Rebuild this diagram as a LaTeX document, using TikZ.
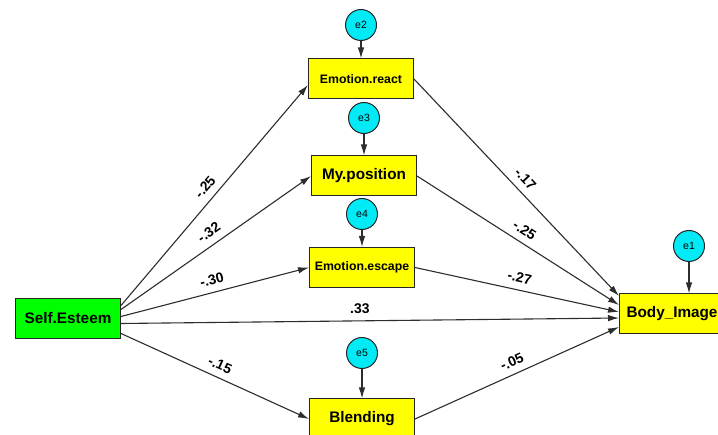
\documentclass[tikz,border=0pt]{standalone}
\usepackage{fontspec}
\setmainfont{Liberation Sans}
\usetikzlibrary{arrows.meta}
\definecolor{varyellow}{RGB}{255,255,0}
\definecolor{exogreen}{RGB}{0,255,0}
\definecolor{errcyan}{RGB}{0,235,245}
\definecolor{linegray}{RGB}{45,45,45}
\begin{document}
\begin{tikzpicture}[x=1pt,y=-1pt,
  var/.style={draw=black!85,line width=1pt,fill=varyellow,minimum width=105pt,minimum height=40pt,inner sep=0pt,font=\fontsize{15.3}{18}\selectfont\bfseries},
  small/.style={font=\fontsize{12.3}{14}\selectfont\bfseries},
  err/.style={circle,draw=black!85,line width=1pt,fill=errcyan,minimum size=31pt,inner sep=0pt,font=\fontsize{10.5}{12}\selectfont},
  arr/.style={draw=linegray,line width=1.1pt,-{Latex[length=11pt,width=6.5pt]}},
  coef/.style={midway,sloped,above=6pt,inner sep=1pt,font=\fontsize{14}{16}\selectfont\bfseries}]
  \useasboundingbox[fill=white] (0,0) rectangle (718,435);
  \node[var,fill=exogreen] (slf) at (68,318.5) {Self.Esteem};
  \node[var,small] (emr) at (361,79) {Emotion.react};
  \node[var] (myp) at (364,176) {My.position};
  \node[var,small] (ems) at (362,267.5) {Emotion.escape};
  \node[var] (bld) at (362,419) {Blending};
  \node[var] (bdy) at (672,314) {Body\_Image};
  \node[err] (e2) at (361,25) {e2};
  \node[err] (e3) at (364,118) {e3};
  \node[err] (e4) at (362,214) {e4};
  \node[err] (e5) at (362,353) {e5};
  \node[err] (e1) at (689,246) {e1};
  \draw[arr] (e2) -- (e2 |- emr.north);
  \draw[arr] (e3) -- (e3 |- myp.north);
  \draw[arr] (e4) -- (e4 |- ems.north);
  \draw[arr] (e5) -- (e5 |- bld.north);
  \draw[arr] (e1) -- (e1 |- bdy.north);
  \draw[arr] ([yshift=13pt]slf.east) -- node[coef]{-.25} ([yshift=-6pt]emr.west);
  \draw[arr] ([yshift=9pt]slf.east) -- node[coef]{-.32} (myp.west);
  \draw[arr] ([yshift=2pt]slf.east) -- node[coef]{-.30} (ems.west);
  \draw[arr] ([yshift=-5pt]slf.east) -- node[coef,pos=0.48]{.33} ([yshift=-4pt]bdy.west);
  \draw[arr] ([yshift=-15pt]slf.east) -- node[coef]{-.15} (bld.west);
  \draw[arr] (emr.east) -- node[coef]{-.17} ([yshift=18pt]bdy.west);
  \draw[arr] (myp.east) -- node[coef]{-.25} ([yshift=9pt]bdy.west);
  \draw[arr] (ems.east) -- node[coef]{-.27} ([yshift=2pt]bdy.west);
  \draw[arr] (bld.east) -- node[coef]{-.05} ([yshift=-13pt]bdy.west);
\end{tikzpicture}
\end{document}
